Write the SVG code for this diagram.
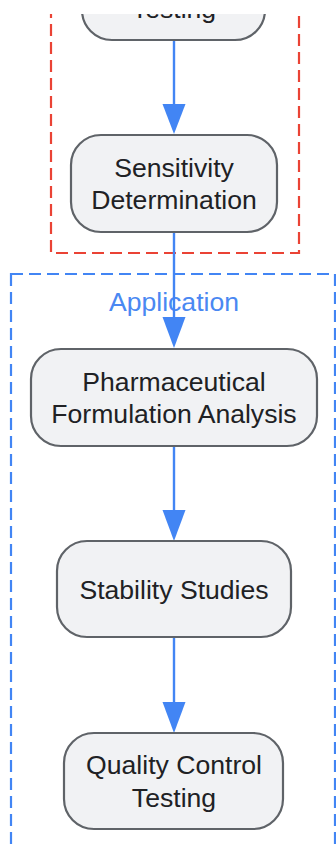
<svg xmlns="http://www.w3.org/2000/svg" width="336" height="848" viewBox="0 0 336 848">
  <style>
    .node rect { fill: #f1f2f4; stroke: #5f6368; stroke-width: 2.2; }
    .node text { font-family: "Liberation Sans", Arial, sans-serif; font-size: 26.6px; fill: #202124; text-anchor: middle; }
    .edge { stroke: #4285f4; stroke-width: 2.4; fill: none; }
    .head { fill: #4285f4; }
    .cluster { fill: none; stroke-width: 2.2; stroke-dasharray: 12 6; }
  </style>
  <defs>
    <clipPath id="view">
      <rect x="0" y="14" width="336" height="834"/>
    </clipPath>
  </defs>
  <rect width="336" height="848" fill="#ffffff"/>
  <g clip-path="url(#view)">
    <g id="clusters">
      <rect class="cluster" x="51" y="-60" width="248" height="313" stroke="#ea4335"/>
      <rect class="cluster" x="11" y="274" width="324" height="600" stroke="#4285f4"/>
      <text x="174" y="311" font-family="Liberation Sans, Arial, sans-serif" font-size="26.6" fill="#4a88f2" text-anchor="middle">Application</text>
    </g>
    <g id="connectors">
      <line class="edge" x1="174" y1="40" x2="174" y2="110"/>
      <polygon class="head" points="162.5,104 185.5,104 174,134"/>
      <line class="edge" x1="174" y1="232" x2="174" y2="322"/>
      <polygon class="head" points="162.5,317 185.5,317 174,348"/>
      <line class="edge" x1="174" y1="446" x2="174" y2="515"/>
      <polygon class="head" points="162.5,510 185.5,510 174,541"/>
      <line class="edge" x1="174" y1="637" x2="174" y2="707"/>
      <polygon class="head" points="162.5,702 185.5,702 174,733"/>
    </g>
    <g id="node-top" class="node">
      <rect x="82" y="-56" width="183" height="96" rx="30" ry="30"/>
      <text x="174" y="18">Testing</text>
    </g>
    <g id="node-sensitivity" class="node">
      <rect x="71" y="135" width="206" height="97" rx="30" ry="30"/>
      <text x="174" y="177">Sensitivity</text>
      <text x="174" y="209">Determination</text>
    </g>
    <g id="node-pharma" class="node">
      <rect x="31" y="349" width="286" height="97" rx="30" ry="30"/>
      <text x="174" y="391">Pharmaceutical</text>
      <text x="174" y="423">Formulation Analysis</text>
    </g>
    <g id="node-stability" class="node">
      <rect x="57" y="541" width="234" height="96" rx="30" ry="30"/>
      <text x="174" y="599">Stability Studies</text>
    </g>
    <g id="node-qc" class="node">
      <rect x="64" y="733" width="219" height="96" rx="30" ry="30"/>
      <text x="174" y="774">Quality Control</text>
      <text x="174" y="807">Testing</text>
    </g>
  </g>
</svg>
